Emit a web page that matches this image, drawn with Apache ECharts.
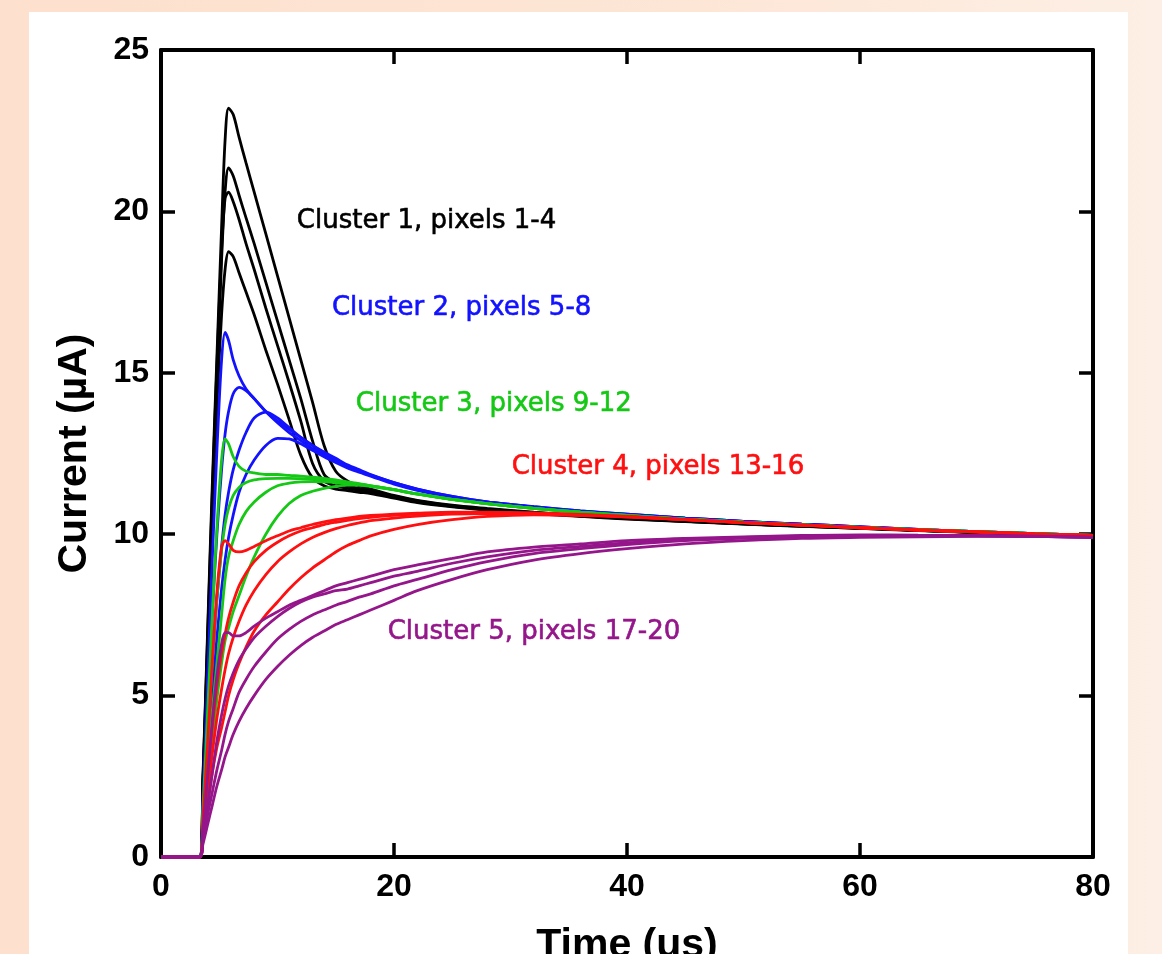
<!DOCTYPE html>
<html>
<head>
<meta charset="utf-8">
<script src="https://cdn.jsdelivr.net/npm/echarts@6/dist/echarts.min.js"></script>
<style>
  html, body { margin: 0; padding: 0; width: 100%; height: 100%; overflow: hidden;
    background: linear-gradient(90deg, #fde0cd 0%, #fde6d6 60%, #fdefe5 100%); }
  #chart { position: absolute; left: 0; top: 0; width: 100%; height: 100%; }
</style>
</head>
<body>
<div id="chart"></div>
<script>
// Time grid (µs) shared by all traces
const timeUs = [0, 3.3, 3.6, 4.0, 4.4, 4.8, 5.2, 5.5, 5.8, 6.2, 6.7, 7.3, 8, 9, 10, 11, 12, 13, 14,
  15, 16, 17, 18, 20, 22, 25, 28, 32, 36, 40, 45, 50, 55, 60, 65, 70, 75, 80];

// Cluster 1, pixels 1-4
const cluster1 = [
  [0, 0, 2.5, 7.0, 11.5, 15.5, 19.5, 22.2, 23.2, 23.0, 22.3, 21.5, 20.6, 19.3, 18.0, 16.7, 15.4, 14.1, 12.75, 11.95, 11.65, 11.5, 11.4, 11.2, 11.05, 10.9, 10.8, 10.68, 10.58, 10.5, 10.41, 10.33, 10.26, 10.19, 10.12, 10.06, 10.0, 9.95],
  [0, 0, 2.3, 6.5, 10.8, 14.8, 18.5, 20.6, 21.35, 21.1, 20.5, 19.8, 19.0, 17.8, 16.6, 15.4, 14.2, 12.9, 11.85, 11.6, 11.5, 11.42, 11.35, 11.18, 11.03, 10.88, 10.78, 10.67, 10.57, 10.49, 10.4, 10.32, 10.25, 10.19, 10.12, 10.06, 10.0, 9.95],
  [0, 0, 2.4, 6.8, 11.2, 15.2, 18.8, 20.4, 20.6, 20.3, 19.75, 19.0, 18.2, 17.0, 15.85, 14.7, 13.5, 12.2, 11.65, 11.5, 11.42, 11.36, 11.3, 11.15, 11.0, 10.86, 10.76, 10.65, 10.56, 10.48, 10.4, 10.32, 10.25, 10.18, 10.12, 10.06, 10.0, 9.95],
  [0, 0, 2.2, 6.2, 10.3, 14.0, 16.8, 18.2, 18.75, 18.6, 18.1, 17.5, 16.8, 15.7, 14.65, 13.55, 12.45, 11.75, 11.5, 11.4, 11.35, 11.3, 11.26, 11.12, 10.98, 10.85, 10.75, 10.64, 10.55, 10.47, 10.39, 10.31, 10.24, 10.18, 10.11, 10.05, 10.0, 9.95]
];
// Cluster 2, pixels 5-8
const cluster2 = [
  [0, 0, 1.8, 5.5, 9.2, 12.6, 15.4, 16.25, 16.0, 15.4, 14.9, 14.5, 14.2, 13.8, 13.5, 13.25, 13.0, 12.75, 12.55, 12.35, 12.15, 12.0, 11.85, 11.6, 11.4, 11.17, 11.0, 10.85, 10.72, 10.62, 10.5, 10.4, 10.31, 10.23, 10.15, 10.08, 10.02, 9.96],
  [0, 0, 1.5, 4.5, 7.5, 10.0, 12.0, 13.1, 13.8, 14.35, 14.55, 14.45, 14.2, 13.8, 13.45, 13.15, 12.9, 12.65, 12.45, 12.27, 12.1, 11.95, 11.82, 11.58, 11.38, 11.15, 10.99, 10.84, 10.71, 10.61, 10.5, 10.4, 10.31, 10.23, 10.15, 10.08, 10.02, 9.96],
  [0, 0, 1.2, 3.6, 6.0, 8.0, 9.6, 10.6, 11.3, 12.0, 12.6, 13.15, 13.6, 13.78, 13.6, 13.3, 13.0, 12.75, 12.5, 12.3, 12.12, 11.97, 11.83, 11.6, 11.4, 11.17, 11.0, 10.85, 10.72, 10.62, 10.5, 10.4, 10.31, 10.23, 10.15, 10.08, 10.02, 9.96],
  [0, 0, 1.0, 3.0, 5.0, 6.8, 8.3, 9.2, 9.9, 10.6, 11.3, 11.85, 12.3, 12.75, 12.97, 12.95, 12.8, 12.6, 12.4, 12.22, 12.05, 11.92, 11.8, 11.55, 11.36, 11.14, 10.98, 10.83, 10.7, 10.6, 10.49, 10.39, 10.3, 10.22, 10.14, 10.08, 10.02, 9.96]
];
// Cluster 3, pixels 9-12
const cluster3 = [
  [0, 0, 1.5, 4.5, 7.5, 10.2, 12.3, 12.95, 12.8, 12.4, 12.1, 11.95, 11.9, 11.85, 11.85, 11.82, 11.8, 11.77, 11.73, 11.68, 11.62, 11.57, 11.5, 11.38, 11.25, 11.08, 10.95, 10.8, 10.68, 10.58, 10.47, 10.37, 10.29, 10.21, 10.14, 10.08, 10.02, 9.96],
  [0, 0, 1.2, 3.6, 6.0, 8.0, 9.5, 10.3, 10.8, 11.2, 11.45, 11.6, 11.68, 11.72, 11.73, 11.73, 11.72, 11.7, 11.68, 11.65, 11.6, 11.55, 11.5, 11.38, 11.25, 11.08, 10.95, 10.8, 10.68, 10.58, 10.47, 10.37, 10.29, 10.21, 10.14, 10.08, 10.02, 9.96],
  [0, 0, 0.9, 2.7, 4.5, 6.0, 7.5, 8.6, 9.3, 9.8, 10.3, 10.7, 11.0, 11.3, 11.5, 11.58, 11.62, 11.63, 11.62, 11.6, 11.57, 11.53, 11.48, 11.37, 11.24, 11.07, 10.94, 10.8, 10.68, 10.58, 10.47, 10.37, 10.29, 10.21, 10.14, 10.08, 10.02, 9.96],
  [0, 0, 0.8, 2.2, 3.6, 4.9, 6.0, 6.7, 7.1, 7.6, 8.1, 8.7, 9.3, 10.0, 10.55, 10.95, 11.2, 11.33, 11.42, 11.48, 11.52, 11.52, 11.5, 11.38, 11.25, 11.08, 10.95, 10.8, 10.68, 10.58, 10.47, 10.37, 10.29, 10.21, 10.14, 10.08, 10.02, 9.96]
];
// Cluster 4, pixels 13-16
const cluster4 = [
  [0, 0, 1.2, 3.5, 6.0, 8.2, 9.6, 9.8, 9.7, 9.5, 9.45, 9.5, 9.62, 9.8, 9.95, 10.1, 10.2, 10.3, 10.38, 10.45, 10.5, 10.55, 10.58, 10.62, 10.65, 10.68, 10.68, 10.66, 10.61, 10.55, 10.45, 10.36, 10.28, 10.2, 10.13, 10.07, 10.01, 9.96],
  [0, 0, 0.9, 2.5, 4.0, 5.3, 6.3, 6.9, 7.4, 7.9, 8.4, 8.8, 9.15, 9.5, 9.75, 9.95, 10.1, 10.2, 10.3, 10.37, 10.43, 10.48, 10.52, 10.58, 10.62, 10.65, 10.66, 10.65, 10.6, 10.55, 10.45, 10.36, 10.28, 10.2, 10.13, 10.07, 10.01, 9.96],
  [0, 0, 0.7, 2.0, 3.2, 4.3, 5.2, 5.8, 6.3, 6.8, 7.3, 7.8, 8.25, 8.75, 9.15, 9.45, 9.7, 9.9, 10.05, 10.17, 10.27, 10.35, 10.42, 10.5, 10.56, 10.62, 10.64, 10.64, 10.6, 10.54, 10.45, 10.36, 10.28, 10.2, 10.13, 10.07, 10.01, 9.96],
  [0, 0, 0.6, 1.6, 2.6, 3.4, 4.0, 4.5, 5.0, 5.5, 6.0, 6.5, 7.0, 7.5, 7.9, 8.3, 8.65, 8.95, 9.2, 9.45, 9.65, 9.8, 9.95, 10.15, 10.3, 10.45, 10.55, 10.6, 10.58, 10.53, 10.45, 10.36, 10.28, 10.2, 10.13, 10.07, 10.01, 9.96]
];
// Cluster 5, pixels 17-20
const cluster5 = [
  [0, 0, 0.9, 2.5, 4.2, 5.6, 6.6, 6.95, 6.95, 6.85, 6.85, 6.95, 7.15, 7.4, 7.6, 7.8, 7.95, 8.1, 8.25, 8.4, 8.5, 8.6, 8.7, 8.9, 9.05, 9.25, 9.45, 9.6, 9.7, 9.8, 9.87, 9.92, 9.96, 9.98, 9.97, 9.96, 9.94, 9.9],
  [0, 0, 0.6, 1.6, 2.6, 3.6, 4.4, 4.9, 5.3, 5.7, 6.1, 6.45, 6.8, 7.15, 7.45, 7.7, 7.9, 8.05, 8.15, 8.25, 8.3, 8.4, 8.5, 8.7, 8.85, 9.1, 9.3, 9.5, 9.62, 9.73, 9.83, 9.9, 9.94, 9.96, 9.96, 9.95, 9.93, 9.9],
  [0, 0, 0.5, 1.3, 2.0, 2.7, 3.3, 3.8, 4.2, 4.6, 5.1, 5.5, 5.9, 6.35, 6.75, 7.05, 7.3, 7.5, 7.65, 7.8, 7.92, 8.05, 8.15, 8.4, 8.6, 8.9, 9.15, 9.4, 9.55, 9.68, 9.8, 9.87, 9.92, 9.95, 9.95, 9.95, 9.93, 9.9],
  [0, 0, 0.4, 1.0, 1.6, 2.2, 2.7, 3.1, 3.4, 3.8, 4.2, 4.6, 5.0, 5.5, 5.9, 6.25, 6.55, 6.8, 7.0, 7.2, 7.35, 7.5, 7.65, 7.95, 8.25, 8.6, 8.9, 9.2, 9.4, 9.55, 9.7, 9.8, 9.87, 9.9, 9.92, 9.93, 9.93, 9.9]
];

const clusterNames = ['Cluster 1, pixels 1-4', 'Cluster 2, pixels 5-8', 'Cluster 3, pixels 9-12',
  'Cluster 4, pixels 13-16', 'Cluster 5, pixels 17-20'];
const clusterColors = ['#000000', '#1212ff', '#16c816', '#ff0f0f', '#94168a'];
// label anchor (left edge) in data coordinates
const labelTime = [11.66, 14.67, 16.72, 30.1, 19.46];
const labelCurrent = [19.68, 16.99, 14.02, 12.06, 6.95];

const xTicks = [0, 20, 40, 60, 80];
const yTicks = [0, 5, 10, 15, 20, 25];

const clusters = [cluster1, cluster2, cluster3, cluster4, cluster5];
const series = [];
clusters.forEach((traces, ci) => {
  traces.forEach((vals, pi) => {
    series.push({
      type: 'line',
      name: clusterNames[ci] + ' #' + (pi + 1),
      data: timeUs.map((t, i) => [t, vals[i]]),
      showSymbol: false,
      symbol: 'none',
      smooth: 0.3,
      clip: false,
      lineStyle: { color: clusterColors[ci], width: 2.8 },
      z: 3 + ci
    });
  });
});
series.push({
  type: 'scatter',
  symbolSize: 0,
  z: 10,
  itemStyle: { opacity: 1 },
  data: clusterNames.map((n, i) => ({
    name: n,
    value: [labelTime[i], labelCurrent[i]],
    label: { color: clusterColors[i], textBorderColor: clusterColors[i] }
  })),
  label: {
    show: true,
    position: 'right',
    distance: 0,
    formatter: p => p.name,
    fontFamily: 'DejaVu Sans',
    fontSize: 26,
    textBorderWidth: 0.6,
    verticalAlign: 'middle'
  }
});

const axisCommon = {
  axisLine: { show: true, onZero: false, lineStyle: { color: '#000', width: 4 } },
  axisTick: { show: true, inside: true, length: 14, lineStyle: { color: '#000', width: 3.5 } },
  splitLine: { show: false }
};
const tickFont = { color: '#000', fontFamily: 'Liberation Sans', fontWeight: 'bold', fontSize: 32 };
const titleFont = { color: '#000', fontFamily: 'Liberation Sans', fontWeight: 'bold', fontSize: 41 };

const chart = echarts.init(document.getElementById('chart'), null, { renderer: 'canvas' });
chart.setOption({
  animation: false,
  backgroundColor: 'transparent',
  graphic: [{
    type: 'rect', z: -10, silent: true,
    shape: { x: 29, y: 12, width: 1099, height: 2000 },
    style: { fill: '#ffffff' }
  }],
  grid: { left: 161, right: 69, top: 50, bottom: 97, containLabel: false, outerBoundsMode: 'none' },
  xAxis: [
    Object.assign({
      type: 'value', min: xTicks[0], max: xTicks[xTicks.length - 1], interval: 20, position: 'bottom',
      name: 'Time (us)', nameLocation: 'middle', nameGap: 68, nameTextStyle: titleFont,
      axisLabel: Object.assign({ margin: 14 }, tickFont)
    }, axisCommon),
    Object.assign({
      type: 'value', min: xTicks[0], max: xTicks[xTicks.length - 1], interval: 20, position: 'top',
      axisLabel: { show: false }
    }, axisCommon)
  ],
  yAxis: [
    Object.assign({
      type: 'value', min: yTicks[0], max: yTicks[yTicks.length - 1], interval: 5, position: 'left',
      name: 'Current (µA)', nameLocation: 'middle', nameGap: 66, nameTextStyle: titleFont,
      axisLabel: Object.assign({ margin: 12 }, tickFont)
    }, axisCommon),
    Object.assign({
      type: 'value', min: yTicks[0], max: yTicks[yTicks.length - 1], interval: 5, position: 'right',
      axisLabel: { show: false }
    }, axisCommon)
  ],
  series: series
});
window.addEventListener('resize', () => chart.resize());
</script>
</body>
</html>
